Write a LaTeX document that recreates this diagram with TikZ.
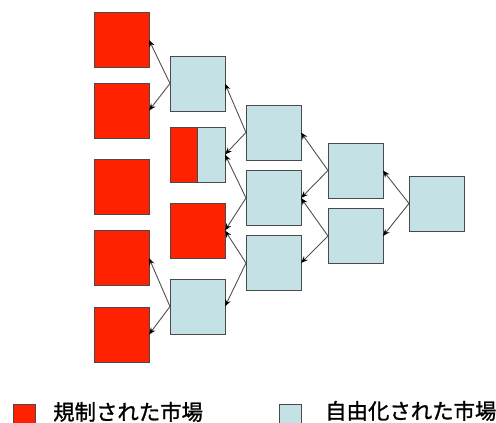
\documentclass[tikz,border=0pt]{standalone}
\usepackage{fontspec}
\newfontfamily\jp[FakeBold=1.2]{Noto Sans CJK JP}
\usetikzlibrary{arrows.meta}
\definecolor{mred}{HTML}{FF2200}
\definecolor{mcyan}{HTML}{C4E2E5}
\definecolor{mborder}{HTML}{4A4A4A}
\definecolor{marrow}{HTML}{505050}
\tikzset{
  mkt/.style={draw=mborder, line width=1pt, minimum width=55pt, minimum height=55pt, inner sep=0pt, outer sep=0pt},
  reg/.style={mkt, fill=mred},
  lib/.style={mkt, fill=mcyan},
  arr/.style={draw=marrow, line width=0.9pt, -{Stealth[length=7pt,width=5.5pt,color=black]}},
  legbox/.style={draw=mborder, line width=1pt, minimum size=22pt, inner sep=0pt},
  legtext/.style={anchor=base west, inner sep=0pt, font=\jp\fontsize{21.4}{22}\selectfont}
}
\begin{document}
\begin{tikzpicture}[x=1pt,y=-1pt]
\useasboundingbox (0,0) rectangle (496,423);
% column 1
\node[reg] (r1) at (121.5,40) {};
\node[reg] (r2) at (121.5,110.5) {};
\node[reg] (r3) at (121.5,187) {};
\node[reg] (r4) at (121.5,258) {};
\node[reg] (r5) at (121.5,334.5) {};
% column 2
\node[lib] (A) at (197.5,83.5) {};
\node[lib, path picture={
  \fill[mred] (path picture bounding box.south west) rectangle (path picture bounding box.north);
  \draw[mborder, line width=1pt] (path picture bounding box.south) -- (path picture bounding box.north);
}] (B) at (197.5,154.5) {};
\node[reg] (C) at (197.5,230.5) {};
\node[lib] (D) at (197.5,306.5) {};
% column 3
\node[lib] (E) at (273.5,132.5) {};
\node[lib] (F) at (273.5,198) {};
\node[lib] (G) at (273.5,263) {};
% column 4
\node[lib] (H) at (355.5,170.5) {};
\node[lib] (I) at (355.5,236) {};
% column 5
\node[lib] (J) at (436.5,203.5) {};
% arrows
\draw[arr] (A.west) -- (r1.east);
\draw[arr] (A.west) -- (r2.east);
\draw[arr] (D.west) -- (r4.east);
\draw[arr] (D.west) -- (r5.east);
\draw[arr] (E.west) -- (A.east);
\draw[arr] (E.west) -- (B.east);
\draw[arr] (F.west) -- (B.east);
\draw[arr] (F.west) -- (C.east);
\draw[arr] (G.west) -- (C.east);
\draw[arr] (G.west) -- (D.east);
\draw[arr] (H.west) -- (E.east);
\draw[arr] (H.west) -- (F.east);
\draw[arr] (I.west) -- (F.east);
\draw[arr] (I.west) -- (G.east);
\draw[arr] (J.west) -- (H.east);
\draw[arr] (J.west) -- (I.east);
% legend
\node[legbox, fill=mred] (lr) at (24,415) {};
\node[legtext] (lrt) at (53,420) {規制された市場};
\node[legbox, fill=mcyan] (lc) at (290.5,415) {};
\node[legtext] (lct) at (325,419) {自由化された市場};
\end{tikzpicture}
\end{document}
